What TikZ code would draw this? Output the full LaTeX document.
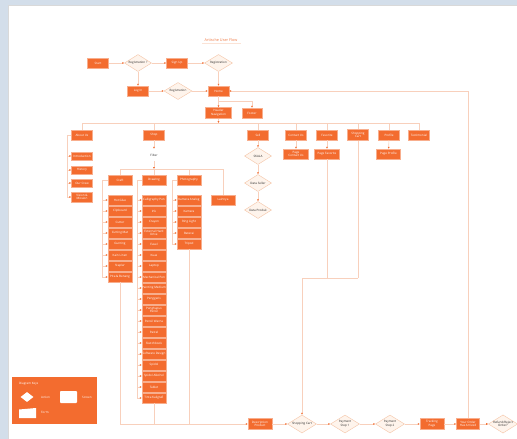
\documentclass[tikz,border=0pt]{standalone}
\usepackage{fontspec}
\setmainfont{Open Sans}
\usetikzlibrary{shapes.geometric,arrows.meta,backgrounds}
\definecolor{orng}{HTML}{F36C2F}
\definecolor{lnc}{HTML}{F8D0BC}
\definecolor{dfill}{HTML}{FEF4EC}
\definecolor{dline}{HTML}{F5C4A6}
\definecolor{bgblue}{HTML}{D3DEEA}
\definecolor{ttl}{HTML}{F07A45}
\definecolor{ttlbar}{HTML}{FBE3D6}
\newcommand\lblfont{\fontsize{3}{3.6}\selectfont}
\begin{document}
\begin{tikzpicture}[x=1pt,y=-1pt,
  scr/.style={rectangle, fill=orng, draw=orng!55!white, line width=0.3pt, text=white, font=\lblfont, inner sep=0pt, minimum width=21pt, minimum height=10pt, align=center},
  sub/.style={minimum width=24pt, minimum height=9.5pt},
  act/.style={diamond, fill=dfill, draw=dline, line width=0.4pt, font=\lblfont, text=black!85, inner sep=0pt, minimum width=28pt, minimum height=17pt, align=center, aspect=1.6},
  frm/.style={fill=white, draw=dline, line width=0.4pt},
  ln/.style={draw=lnc, line width=0.55pt},
  arr/.style={ln, -{Latex[length=2pt,width=2pt,color=orng]}}]
\useasboundingbox (0,0) rectangle (517,439);
% background
\fill[bgblue] (0,0) rectangle (517,439);
\fill[white] (8,5) rectangle (517,439);
\draw[black!15, line width=0.4pt] (8,439) -- (8,5) -- (517,5);
% title
\fill[ttlbar] (202,43) rectangle (241,44.2);
\node[font=\fontsize{3.8}{4.5}\selectfont, text=ttl, inner sep=0pt] (title) at (221,40.5) {Artische User Flow};
% top rows
\node[scr] (start) at (98,63) {Start};
\node[act, minimum width=27pt] (regq) at (138,63) {Registration ?};
\node[scr] (signup) at (177,63) {Sign Up};
\node[act] (reg1) at (218.5,63) {Registration};
\node[scr] (login) at (138,91) {Log In};
\node[act] (reg2) at (178,91) {Registration};
\node[scr] (home) at (218.5,91) {Home};
\node[scr, minimum width=26pt, minimum height=11pt] (header) at (218.5,113) {Header\\Navigation};
\node[scr, minimum width=20pt] (footer) at (252,113) {Footer};
\draw[arr] (start) -- (regq);
\draw[arr] (regq) -- (signup);
\draw[arr] (signup) -- (reg1);
\draw[arr] (regq) -- (login);
\draw[arr] (login) -- (reg2);
\draw[arr] (reg2) -- (home);
\draw[arr] (reg1) -- (home);
\draw[arr] (home) -- (header);
\coordinate (hf) at (218.5,101);
\draw[arr] (hf) -| (footer.north);
% header bus
\node[scr] (aboutus) at (82,135) {About Us};
\node[scr] (shop) at (154,135) {Shop};
\node[scr] (sell) at (258,135) {Sell};
\node[scr] (contact) at (296,135) {Contact Us};
\node[scr] (favorite) at (327,135) {Favorite};
\node[scr, minimum height=11pt] (cart) at (358,135) {Shopping\\Cart};
\node[scr] (profile) at (389,135) {Profile};
\node[scr] (testi) at (419,135) {Testimonial};
\coordinate (bus) at (218.5,123);
\draw[arr] (header) -- (bus);
\draw[ln] (aboutus |- bus) -- (testi |- bus);
\foreach \n in {aboutus,shop,sell,contact,favorite,cart,profile,testi}
  \draw[ln] (\n |- bus) -- (\n.north);
% about us
\node[scr, minimum height=8.5pt] (intro) at (82,156) {Introduction};
\node[scr, minimum height=8.5pt] (history) at (82,170) {History};
\node[scr, minimum height=8.5pt] (crew) at (82,183) {Our Crew};
\node[scr] (vision) at (82,197) {Vision \&\\Mission};
\coordinate (abx) at (67,135);
\draw[ln] (aboutus.west) -- (abx) -- (abx |- vision);
\foreach \n in {intro,history,crew,vision}
  \draw[arr] (abx |- \n) -- (\n.west);
% shop / filter
\node[minimum width=22pt, minimum height=12pt, inner sep=0pt, font=\lblfont, text=black!85] (filter) at (154,155) {Filter};
\begin{scope}[on background layer]
\draw[frm] (filter.south west) -- (filter.south east) -- (filter.north east) -- ([yshift=-3pt]filter.north west) -- cycle;
\end{scope}
\draw[arr] (shop) -- (filter.north);
\coordinate (fb) at (154,169);
\draw[arr] (filter.south) -- (fb);
\node[scr, sub] (craft) at (120,180) {Craft};
\node[scr, sub] (drawing) at (154,180) {Drawing};
\node[scr, sub] (photo) at (189,180) {Photography};
\node[scr, sub] (lainnya) at (223,200) {Lainnya};
\draw[ln] (craft |- fb) -- (lainnya |- fb);
\foreach \n in {craft,drawing,photo,lainnya}
  \draw[ln] (\n |- fb) -- (\n.north);
% craft list
\foreach \t [count=\i] in {Hot Glue,Clipboard,Cutter,Cutting Mat,Gunting,Kain Linen,Stapler,Pita \& Benang}
  \node[scr, sub] (c\i) at (120,189+11*\i) {\t};
\coordinate (cx) at (102,180);
\draw[ln] (craft.west) -- (cx) -- (cx |- c8);
\foreach \i in {1,...,8} \draw[arr] (cx |- c\i) -- (c\i.west);
% drawing list
\foreach \t [count=\i] in {Calligraphy Pen,Ink,Crayon,{External Hard\\Drive},Easel,Kuas,Laptop,Mechanical Pen,Painting Medium,Penggaris,{Penghapus\\Pensil},Pensil Warna,Pastel,Sketchbook,Software Design,Spidol,Spidol Alkohol,Tablet,Tinta Kaligrafi}
  \node[scr, sub] (d\i) at (154,189+11*\i) {\t};
\coordinate (dx) at (137,180);
\draw[ln] (drawing.west) -- (dx) -- (dx |- d19);
\foreach \i in {1,...,19} \draw[arr] (dx |- d\i) -- (d\i.west);
% photography list
\foreach \t [count=\i] in {Kamera Analog,Kamera,Ring Light,Baterai,Tripod}
  \node[scr, sub] (p\i) at (189,189+11*\i) {\t};
\coordinate (px) at (172,180);
\draw[ln] (photo.west) -- (px) -- (px |- p5);
\foreach \i in {1,...,5} \draw[arr] (px |- p\i) -- (p\i.west);
% sell
\node[act, minimum width=27pt] (s1) at (258,156) {SKALA};
\node[act, minimum width=27pt] (s2) at (258,183) {Data Seller};
\node[act, minimum width=27pt] (s3) at (258,210) {Data Produk};
\draw[arr] (sell) -- (s1);
\draw[arr] (s1) -- (s2);
\draw[arr] (s2) -- (s3);
% pages
\node[scr, minimum width=25pt] (pcontact) at (296,154) {Page\\Contact Us};
\node[scr, minimum width=25pt] (pfav) at (327,154) {Page Favorite};
\node[scr, minimum width=24pt] (pprofile) at (388.5,154) {Page Profile};
\draw[arr] (contact) -- (pcontact);
\draw[arr] (favorite) -- (pfav);
\draw[arr] (profile) -- (pprofile);
% bottom row
\node[scr, sub, minimum height=11pt] (desc) at (260,424) {Description\\Product};
\node[act, minimum width=29pt, minimum height=18pt] (shopd) at (302,424) {Shopping Cart};
\node[act, minimum width=29pt, minimum height=18pt] (pay1) at (345,424) {Payment\\Step 1};
\node[act, minimum width=29pt, minimum height=18pt] (pay2) at (390,424) {Payment\\Step 2};
\node[scr, sub, minimum height=11pt] (track) at (432,424) {Tracking\\Page};
\node[scr, minimum width=23pt, minimum height=11pt] (order) at (468,424) {Your Order\\Has Arrived};
\node[act, minimum width=28pt, minimum height=18pt] (refund) at (503,424) {Refund/Reject\\Order?};
\draw[arr] (desc) -- (shopd);
\draw[arr] (shopd) -- (pay1);
\draw[arr] (pay1) -- (pay2);
\draw[arr] (pay2) -- (track);
\draw[arr] (track) -- (order);
\draw[arr] (order) -- (refund);
% down lines to description
\coordinate (bot) at (120,424);
\draw[ln] (c8.south) -- (c8.south |- bot);
\draw[ln] (d19.south) -- (d19.south |- bot);
\draw[ln] (p5.south) -- (p5.south |- bot);
\draw[arr] (c8.south |- bot) -- (desc.west);
% favorite + cart join
\coordinate (j) at (302,278);
\draw[ln] (pfav.south) -- (pfav.south |- j);
\draw[ln] (cart.south) -- (cart.south |- j);
\draw[ln] (j) -- (cart.south |- j);
\draw[arr] (j) -- (shopd.north);
% order back to home
\draw[arr] (order.north) -- (order.north |- home) -- (home.east);
% diagram key
\fill[orng] (12,377) rectangle (97,424);
\node[font=\fontsize{3}{3.6}\selectfont, text=white, anchor=west, inner sep=0pt] (keyt) at (19,384) {Diagram Keys};
\node[diamond, fill=white, inner sep=0pt, minimum width=13pt, minimum height=10pt] (kd) at (27,397) {};
\node[font=\lblfont, text=white, anchor=west, inner sep=0pt] (kdl) at (41,397) {Action};
\node[fill=white, rounded corners=0.8pt, minimum width=17pt, minimum height=12pt, inner sep=0pt] (ks) at (68.5,397) {};
\node[font=\lblfont, text=white, anchor=west, inner sep=0pt] (ksl) at (82,397) {Screen};
\fill[white] (19,418) -- (36,418) -- (36,408) -- (19,409.5) -- cycle;
\node[font=\lblfont, text=white, anchor=west, inner sep=0pt] (kfl) at (41,412) {Form};
\end{tikzpicture}
\end{document}
